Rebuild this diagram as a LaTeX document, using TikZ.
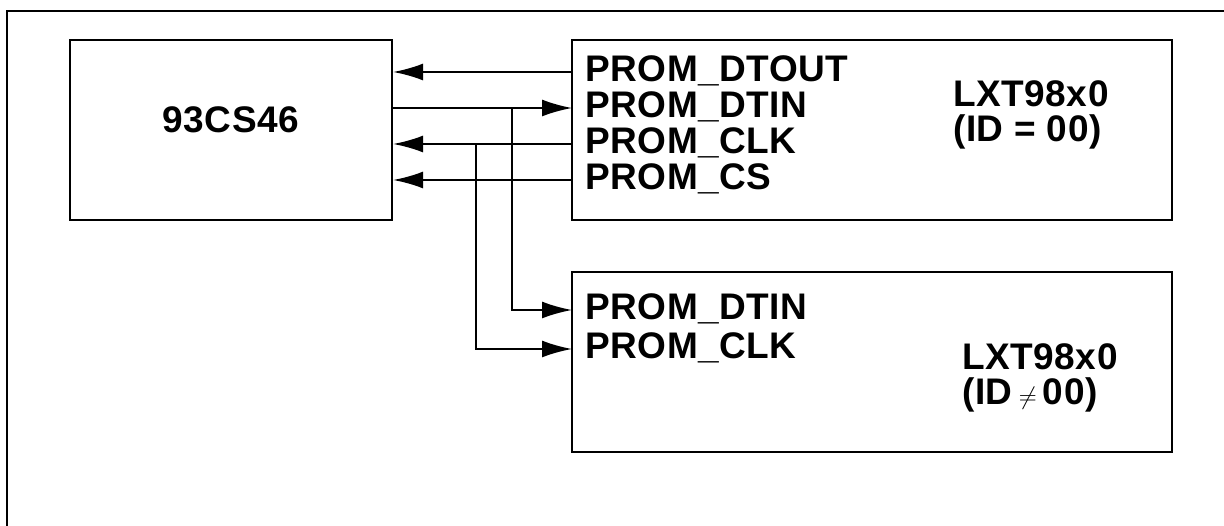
\documentclass[tikz,border=0pt]{standalone}
\usepackage{fontspec}
\setmainfont{Liberation Sans}[LetterSpace=1.5]
\usepackage{amsmath,amssymb}
\usetikzlibrary{arrows.meta}

\begin{document}
\begin{tikzpicture}[
x=1pt, y=-1pt,
chipbox/.style={rectangle, draw=black, line width=2.2pt, inner sep=0pt},
chiptext/.style={font=\fontsize{37}{37}\selectfont\bfseries, inner sep=0pt, anchor=base west},
sig/.style={line width=2pt, -{Latex[length=30pt, width=17pt]}},
]
\useasboundingbox (0,0) rectangle (1224,526);

%Frame
\draw[line width=2.2pt] (7,540) -- (7,11) -- (1240,11);

%Nodes
\node[chipbox, minimum width=322pt, minimum height=180pt] (eeprom) at (231,130) {};
\node[chipbox, minimum width=600pt, minimum height=180pt] (lxtmain) at (872,130) {};
\node[chipbox, minimum width=600pt, minimum height=180pt] (lxtsub) at (872,362) {};

\node[chiptext, anchor=base] (eepromname) at (231,133) {93CS46};

\node[chiptext] (dtout) at (585,82)  {PROM\_DTOUT};
\node[chiptext] (dtin)  at (585,118) {PROM\_DTIN};
\node[chiptext] (clk)   at (585,154) {PROM\_CLK};
\node[chiptext] (cs)    at (585,190) {PROM\_CS};
\node[chiptext] (mainname) at (953,107) {LXT98x0};
\node[chiptext] (mainid)   at (953,142) {(ID = 00)};

\node[chiptext] (dtinb) at (585,320) {PROM\_DTIN};
\node[chiptext] (clkb)  at (585,359) {PROM\_CLK};
\node[chiptext] (subname) at (962,370) {LXT98x0};
\node[chiptext] (subid)   at (962,405) {(ID\,{\normalfont\fontsize{26}{26}\selectfont$\neq$}\,00)};

%Pins
\coordinate (pdtout) at (572,72);
\coordinate (pdtin)  at (572,108);
\coordinate (pclk)   at (572,144);
\coordinate (pcs)    at (572,180);
\coordinate (pdtinb) at (572,310);
\coordinate (pclkb)  at (572,349);
\coordinate (tapdtin) at (512,108);
\coordinate (tapclk)  at (476,144);

%Lines
\draw[sig] (pdtout) -- (pdtout -| eeprom.east);
\draw[sig] (pdtin -| eeprom.east) -- (pdtin);
\draw[sig] (pclk) -- (pclk -| eeprom.east);
\draw[sig] (pcs) -- (pcs -| eeprom.east);
\draw[sig] (tapdtin) |- (pdtinb);
\draw[sig] (tapclk) |- (pclkb);
\end{tikzpicture}
\end{document}
